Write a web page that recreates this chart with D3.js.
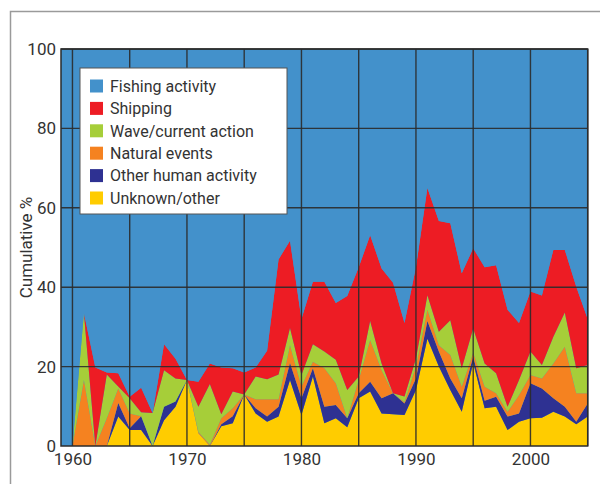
<!DOCTYPE html>
<html>
<head>
<meta charset="utf-8">
<script src="https://cdn.jsdelivr.net/npm/d3@7"></script>
<style>
  body { margin: 0; background: #fff; }
  svg { display: block; font-family: Roboto, "DejaVu Sans", sans-serif; }
</style>
</head>
<body>
<script>
const WIDTH = 600;
const HEIGHT = 484;
const PLOT = { left: 61, right: 587.7, top: 49, bottom: 446 };

const years = d3.range(1960, 2006);

// per-year share (%) of each cause; fishing fills the rest up to 100
const unknownOther = [0, 0, 0, 0, 7.4, 4, 4, 0, 6.5, 9.9,
  16.6, 3.2, 0, 5, 5.7, 13, 8.2, 6.1, 7.4, 16.6,
  7.8, 17.5, 5.7, 7, 4.7, 12, 13.7, 8.2, 8, 7.8,
  14.1, 27, 20, 14.1, 8.6, 21, 9.5, 9.9, 4, 6.1,
  7, 7.1, 8.6, 7.4, 5.5, 7.4];
const otherHuman = [0, 0, 0, 0, 3.4, 0.5, 3.5, 0, 3.4, 1.3,
  0, 0, 0, 0.5, 1.8, 0, 1.3, 1.3, 2.5, 4.3,
  4.2, 2.1, 4.2, 3.3, 2.3, 1.3, 2.5, 3.8, 5.3, 2.9,
  2.9, 4.5, 3.8, 2.9, 3.4, 1.5, 1.9, 2.5, 3.4, 2.1,
  8.8, 7.4, 3.4, 2.5, 0.6, 3.3];
const naturalEvents = [0, 16.6, 0, 7, 3.7, 3.7, 0, 0, 0, 0,
  0, 0.3, 0.3, 1.5, 2, 0, 2.3, 4.4, 1.9, 4.5,
  3, 1.6, 9.7, 5.5, 0, 3.3, 10.5, 7.1, 0, 0.3,
  3, 2.8, 1.6, 5.9, 2.9, 1, 3.5, 0.9, 1.2, 4.6,
  2.1, 2.5, 8.8, 15.1, 7.2, 2.6];
const waveCurrent = [0, 16.9, 0, 11, 0.5, 3.8, 1, 8.3, 9.2, 5.8,
  0, 6.4, 15.3, 1, 4.2, 0, 5.7, 5, 6.2, 4.3,
  2.9, 4.4, 4.2, 5.9, 7.1, 0.9, 4.8, 1.7, 0, 1.5,
  2, 3.7, 3.4, 8.8, 4.7, 6.1, 5.9, 5, 1.3, 3.8,
  5.9, 3.4, 6.7, 8.6, 6.3, 7.1];
const shipping = [0, 0, 19.8, 0.5, 3.3, 0.4, 6.2, 0, 6.5, 5,
  0, 6.3, 5.2, 11.8, 5.9, 5.5, 2.3, 7.2, 29, 22,
  14.1, 15.8, 17.6, 14.3, 23.7, 27.5, 21.6, 23.9, 27.8, 18.5,
  23, 27, 27.9, 24.4, 23.9, 20.2, 24.2, 27.2, 24.4, 14.4,
  15.1, 17.5, 21.9, 15.8, 20.5, 11.6];

const keys = ["unknown", "otherHuman", "natural", "wave", "shipping", "fishing"];
const labels = {
  fishing: "Fishing activity",
  shipping: "Shipping",
  wave: "Wave/current action",
  natural: "Natural events",
  otherHuman: "Other human activity",
  unknown: "Unknown/other"
};
const colors = {
  fishing: "#4391cb",
  shipping: "#ed1c24",
  wave: "#a6ce39",
  natural: "#f58220",
  otherHuman: "#2e3192",
  unknown: "#ffcc00"
};

const table = years.map((year, i) => {
  const row = {
    year,
    unknown: unknownOther[i],
    otherHuman: otherHuman[i],
    natural: naturalEvents[i],
    wave: waveCurrent[i],
    shipping: shipping[i]
  };
  row.fishing = 100 - (row.unknown + row.otherHuman + row.natural + row.wave + row.shipping);
  return row;
});

const x = d3.scaleLinear([1959, 2005], [PLOT.left, PLOT.right]);
const y = d3.scaleLinear([0, 100], [PLOT.bottom, PLOT.top]);

const svg = d3.select("body").append("svg")
    .attr("width", WIDTH)
    .attr("height", HEIGHT);

// outer frame (left and top only)
svg.append("path")
    .attr("d", `M10.5,${HEIGHT} V11.5 H${WIDTH}`)
    .attr("fill", "none")
    .attr("stroke", "#9a9a9a")
    .attr("stroke-width", 1.5);

// plot background in the fishing colour (covers the strip before 1960)
svg.append("rect")
    .attr("x", PLOT.left)
    .attr("y", PLOT.top)
    .attr("width", PLOT.right - PLOT.left)
    .attr("height", PLOT.bottom - PLOT.top)
    .attr("fill", colors.fishing);

const series = d3.stack().keys(keys)(table);

const area = d3.area()
    .x(d => x(d.data.year))
    .y0(d => y(d[0]))
    .y1(d => y(d[1]));

svg.append("g")
  .selectAll("path")
  .data(series)
  .join("path")
    .attr("fill", d => colors[d.key])
    .attr("d", area);

// grid
const grid = svg.append("g")
    .attr("stroke", "#2b2b2b")
    .attr("stroke-width", 1.4)
    .attr("stroke-opacity", 0.9);

grid.selectAll(".v")
  .data(d3.range(1960, 2006, 5))
  .join("line")
    .attr("x1", d => x(d)).attr("x2", d => x(d))
    .attr("y1", PLOT.top).attr("y2", PLOT.bottom);

grid.selectAll(".h")
  .data(d3.range(20, 101, 20))
  .join("line")
    .attr("x1", PLOT.left).attr("x2", PLOT.right)
    .attr("y1", d => y(d)).attr("y2", d => y(d));

// plot frame
svg.append("rect")
    .attr("x", PLOT.left)
    .attr("y", PLOT.top)
    .attr("width", PLOT.right - PLOT.left)
    .attr("height", PLOT.bottom - PLOT.top)
    .attr("fill", "none")
    .attr("stroke", "#2b2b2b")
    .attr("stroke-width", 1.5);

// axes
const xAxis = d3.axisBottom(x)
    .tickValues([1960, 1970, 1980, 1990, 2000])
    .tickFormat(d3.format("d"))
    .tickSize(0)
    .tickPadding(7);

svg.append("g")
    .attr("transform", `translate(0,${PLOT.bottom})`)
    .call(xAxis)
    .call(g => g.select(".domain").remove())
    .call(g => g.selectAll("text")
      .attr("fill", "#333")
      .style("font-size", "17px")
      .style("font-family", "Roboto, sans-serif"));

const yAxis = d3.axisLeft(y)
    .tickValues(d3.range(0, 101, 20))
    .tickSize(0)
    .tickPadding(5);

svg.append("g")
    .attr("transform", `translate(${PLOT.left},0)`)
    .call(yAxis)
    .call(g => g.select(".domain").remove())
    .call(g => g.selectAll("text")
      .attr("fill", "#333")
      .style("font-size", "17px")
      .style("font-family", "Roboto, sans-serif"));

svg.append("text")
    .attr("transform", `translate(32,${(PLOT.top + PLOT.bottom) / 2}) rotate(-90)`)
    .attr("text-anchor", "middle")
    .attr("fill", "#333")
    .style("font-size", "17px")
    .text("Cumulative %");

// legend
const legend = svg.append("g")
    .attr("transform", "translate(80,68)");

legend.append("rect")
    .attr("width", 207)
    .attr("height", 146)
    .attr("fill", "#fff")
    .attr("stroke", "#555")
    .attr("stroke-width", 1);

const legendKeys = ["fishing", "shipping", "wave", "natural", "otherHuman", "unknown"];
const item = legend.selectAll(".item")
  .data(legendKeys)
  .join("g")
    .attr("transform", (d, i) => `translate(10,${18 + i * 22.4})`);

item.append("rect")
    .attr("y", -6.5)
    .attr("width", 13)
    .attr("height", 13)
    .attr("fill", d => colors[d]);

item.append("text")
    .attr("x", 20)
    .attr("dy", "0.36em")
    .attr("fill", "#333")
    .style("font-size", "16px")
    .text(d => labels[d]);
</script>
</body>
</html>
